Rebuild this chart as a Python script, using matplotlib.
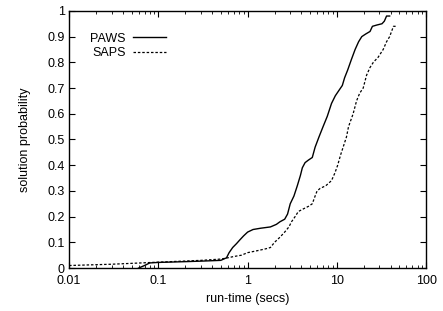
import matplotlib
matplotlib.use('Agg')
import matplotlib.pyplot as plt
from matplotlib.ticker import LogLocator, FixedLocator, FixedFormatter, NullFormatter

plt.rcParams['font.family'] = ['Liberation Sans', 'DejaVu Sans']

# PAWS run-time distribution
paws_t = [0.06, 0.07, 0.08, 0.1, 0.2, 0.3, 0.5, 0.58, 0.62, 0.68, 0.75, 0.82, 0.9, 1.0,
          1.15, 1.4, 1.8, 2.1, 2.3, 2.6, 2.8, 3.0, 3.3, 3.6, 3.9, 4.1, 4.4, 4.8, 5.3, 5.7,
          6.3, 7.0, 7.8, 8.7, 9.6, 10.5, 11.5, 12.2, 13.2, 14.5, 16.0, 17.5, 19.0, 21.0,
          23.5, 25.0, 28, 32, 34, 36, 39]
paws_p = [0.0, 0.01, 0.02, 0.022, 0.025, 0.027, 0.03, 0.04, 0.06, 0.08, 0.095, 0.11, 0.125,
          0.14, 0.15, 0.155, 0.16, 0.17, 0.18, 0.19, 0.21, 0.25, 0.28, 0.32, 0.36, 0.39, 0.41,
          0.42, 0.43, 0.47, 0.51, 0.55, 0.59, 0.64, 0.67, 0.69, 0.71, 0.74, 0.77, 0.81, 0.85,
          0.88, 0.90, 0.91, 0.92, 0.94, 0.945, 0.95, 0.96, 0.98, 0.98]

# SAPS run-time distribution
saps_t = [0.01, 0.03, 0.1, 0.3, 0.5, 0.6, 0.7, 0.85, 1.0, 1.3, 1.6, 1.8, 2.0, 2.3, 2.6, 2.9,
          3.1, 3.4, 3.7, 4.2, 4.8, 5.3, 5.7, 6.0, 6.5, 7.5, 8.7, 9.5, 10.2, 11.0, 12.0, 12.8,
          13.5, 15.2, 16.6, 18, 19.7, 21.5, 23.5, 25.6, 29, 33, 36, 39, 43, 47]
saps_p = [0.01, 0.015, 0.023, 0.03, 0.035, 0.04, 0.045, 0.05, 0.06, 0.068, 0.075, 0.08, 0.10,
          0.12, 0.14, 0.16, 0.18, 0.20, 0.22, 0.23, 0.24, 0.25, 0.28, 0.30, 0.31, 0.32, 0.34,
          0.37, 0.40, 0.44, 0.48, 0.51, 0.55, 0.60, 0.65, 0.68, 0.70, 0.75, 0.78, 0.80, 0.82,
          0.85, 0.88, 0.90, 0.94, 0.94]

xticks = [0.01, 0.1, 1, 10, 100]
xlabels = ['0.01', '0.1', '1', '10', '100']
yticks = [0, 0.1, 0.2, 0.3, 0.4, 0.5, 0.6, 0.7, 0.8, 0.9, 1]
ylabels = ['0', '0.1', '0.2', '0.3', '0.4', '0.5', '0.6', '0.7', '0.8', '0.9', '1']

fig = plt.figure(figsize=(4.43, 3.11), dpi=100)
ax = fig.add_axes([0.156, 0.138, 0.806, 0.827])

ax.plot(paws_t, paws_p, color='black', lw=1.0, label='PAWS')
ax.plot(saps_t, saps_p, color='black', lw=0.9, ls=(0, (2, 1.5)), label='SAPS')

ax.set_xscale('log')
ax.set_xlim(0.01, 100)
ax.set_ylim(0, 1)
ax.xaxis.set_major_locator(FixedLocator(xticks))
ax.xaxis.set_major_formatter(FixedFormatter(xlabels))
ax.xaxis.set_minor_locator(LogLocator(base=10, subs=range(2, 10)))
ax.xaxis.set_minor_formatter(NullFormatter())
ax.yaxis.set_major_locator(FixedLocator(yticks))
ax.yaxis.set_major_formatter(FixedFormatter(ylabels))

ax.tick_params(which='both', direction='in', top=True, right=True, labelsize=9, color='black')
ax.tick_params(which='major', length=4, width=0.8, pad=3)
ax.tick_params(axis='x', which='major', pad=5)
ax.tick_params(which='minor', length=2, width=0.6)
for s in ax.spines.values():
    s.set_linewidth(1.0)

ax.set_xlabel('run-time (secs)', fontsize=9, labelpad=4)
ax.set_ylabel('solution probability', fontsize=9, labelpad=12)

ax.legend(loc='upper left', bbox_to_anchor=(0.045, 0.935), frameon=False, markerfirst=False,
          fontsize=9, handlelength=2.6, handletextpad=0.6, borderaxespad=0, labelspacing=0.2)

fig.savefig('out.png', dpi=100)
